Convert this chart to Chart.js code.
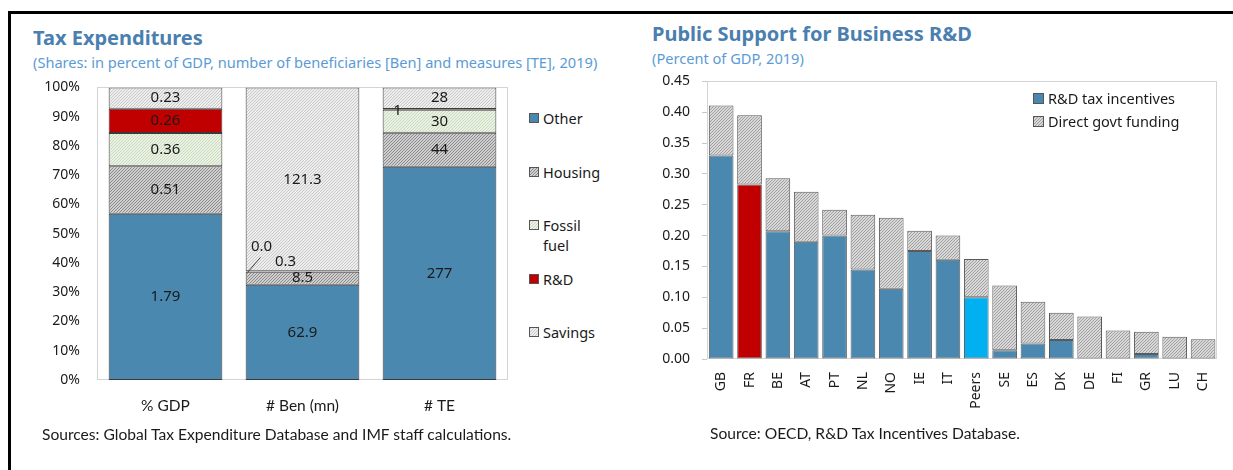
<!DOCTYPE html>
<html><head><meta charset="utf-8">
<script src="https://cdn.jsdelivr.net/npm/chart.js@4.4.1/dist/chart.umd.min.js"></script>
<style>
html,body{margin:0;padding:0;background:#fff;width:1233px;height:470px;overflow:hidden;font-family:"Noto Sans",sans-serif;position:relative;}
#frameTop{position:absolute;left:8px;top:11px;width:1225px;height:3px;background:#000;}
#frameLeft{position:absolute;left:8px;top:11px;width:3px;height:459px;background:#000;}
.title{position:absolute;font-weight:bold;font-size:20px;line-height:24px;color:#4a7fb0;white-space:nowrap;}
.sub{position:absolute;font-size:14.6px;line-height:20px;color:#5b9bd5;white-space:nowrap;}
.src{position:absolute;font-family:Lato,sans-serif;font-size:15.6px;line-height:20px;color:#1a1a1a;white-space:nowrap;}
.cw{position:absolute;}
.leg{position:absolute;font-size:14.5px;line-height:20px;color:#1a1a1a;white-space:nowrap;}
.leg canvas{position:absolute;left:0;top:5px;}
.leg span{position:absolute;white-space:nowrap;}
</style>
</head>
<body>
<div id="frameTop"></div><div id="frameLeft"></div>

<div class="title" style="left:33px;top:26px;">Tax Expenditures</div>
<div class="sub" style="left:33px;top:52px;">(Shares: in percent of GDP, number of beneficiaries [Ben] and measures [TE], 2019)</div>
<div class="title" style="left:652px;top:22px;">Public Support for Business R&amp;D</div>
<div class="sub" style="left:652px;top:48px;">(Percent of GDP, 2019)</div>

<div class="cw" style="left:0px;top:62px;width:520px;height:368px;"><canvas id="c1"></canvas></div>
<div class="cw" style="left:630px;top:61px;width:603px;height:349px;"><canvas id="c2"></canvas></div>

<div id="leg1"></div>
<div id="leg2"></div>

<div class="src" style="left:42px;top:424px;">Sources: Global Tax Expenditure Database and IMF staff calculations.</div>
<div class="src" style="left:710px;top:423px;">Source: OECD, R&amp;D Tax Incentives Database.</div>

<script>
// ---------- Data: left chart (Tax Expenditures) ----------
const teCategories = ['% GDP', '# Ben (mn)', '# TE'];
const teSeriesNames = ['Other', 'Housing', 'Fossil fuel', 'R&D', 'Savings'];
const teOther   = [1.79, 62.9, 277];
const teHousing = [0.51, 8.5, 44];
const teFossil  = [0.36, 0.3, 30];
const teRnD     = [0.26, 0.0, 1];
const teSavings = [0.23, 121.3, 28];
const teDecimals = [2, 1, 0];
const pctTicks = [0,10,20,30,40,50,60,70,80,90,100];

// ---------- Data: right chart (Public Support for Business R&D) ----------
const rdCountries = ['GB','FR','BE','AT','PT','NL','NO','IE','IT','Peers','SE','ES','DK','DE','FI','GR','LU','CH'];
const rdTaxIncentives = [0.330,0.283,0.207,0.190,0.200,0.145,0.114,0.175,0.161,0.100,0.014,0.025,0.031,0.000,0.000,0.008,0.000,0.000];
const rdDirectFunding = [0.081,0.112,0.086,0.081,0.042,0.089,0.115,0.033,0.039,0.062,0.105,0.068,0.044,0.069,0.046,0.036,0.036,0.032];
const rdSeriesNames = ['R&D tax incentives', 'Direct govt funding'];

// ---------- Styles ----------
const FONT = '"Noto Sans", sans-serif';
const BLUE = '#4a88af';
function hatch(bg, fg, step) {
  const c = document.createElement('canvas');
  c.width = step; c.height = step;
  const x = c.getContext('2d');
  x.fillStyle = bg; x.fillRect(0,0,step,step);
  x.fillStyle = fg;
  for (let i = 0; i < step; i++) x.fillRect(i, step-1-i, 1, 1);
  return x.createPattern(c, 'repeat');
}
const patHousing = hatch('#cfcfcf', '#8a8a8a', 3);
const patFossil  = hatch('#eaf2e2', '#cbd8c2', 3);
const patSavings = hatch('#eeeeee', '#c8c8c8', 3);
const patDirect  = hatch('#d8d8d8', '#a0a0a0', 3);
const teFills = [BLUE, patHousing, patFossil, '#c00000', patSavings];
const rdHighlight = {FR: '#c00000', Peers: '#00b0f0'};

// label layout tweaks (series index, category index)
const teLabelTweaks = {
  '3,1': {dx: -41, dy: -25, leader: true},
  '2,1': {dx: -17, dy: -10},
  '3,2': {dx: -42, dy: 1}
};

// ---------- Left chart ----------
const teRaw = [teOther, teHousing, teFossil, teRnD, teSavings];
const teTotals = teCategories.map((_, i) => teRaw.reduce((s, a) => s + a[i], 0));
const teShares = teRaw.map(a => a.map((v, i) => v / teTotals[i] * 100));

const framePlugin = {
  id: 'frame',
  beforeDatasetsDraw(chart) {
    const a = chart.chartArea, ctx = chart.ctx;
    ctx.save(); ctx.strokeStyle = '#d4d4d4'; ctx.lineWidth = 1;
    ctx.strokeRect(Math.round(a.left)+0.5, Math.round(a.top)+0.5, Math.round(a.right-a.left)-1, Math.round(a.bottom-a.top)-1);
    ctx.restore();
  }
};

const teLabelPlugin = {
  id: 'teLabels',
  afterDatasetsDraw(chart) {
    const ctx = chart.ctx;
    ctx.save();
    ctx.font = '15px ' + FONT;
    ctx.fillStyle = '#1a1a1a';
    ctx.textAlign = 'center'; ctx.textBaseline = 'middle';
    chart.data.datasets.forEach((ds, di) => {
      const meta = chart.getDatasetMeta(di);
      meta.data.forEach((bar, i) => {
        const txt = teRaw[di][i].toFixed(teDecimals[i]);
        let x = bar.x, y = (bar.y + bar.base) / 2;
        const t = teLabelTweaks[di + ',' + i];
        if (t) {
          if (t.leader) {
            ctx.save(); ctx.strokeStyle = '#404040'; ctx.lineWidth = 1;
            ctx.beginPath(); ctx.moveTo(x - bar.width/2 + 2, y + 1); ctx.lineTo(x + t.dx - 1, y + t.dy + 11); ctx.stroke();
            ctx.restore();
          }
          x += t.dx; y += t.dy;
        }
        ctx.fillText(txt, x, y);
      });
    });
    ctx.restore();
  }
};

new Chart(document.getElementById('c1'), {
  type: 'bar',
  data: {
    labels: teCategories,
    datasets: teSeriesNames.map((n, k) => ({
      label: n, data: teShares[k], backgroundColor: teFills[k],
      borderColor: '#3a3a3a', borderWidth: 1, borderSkipped: false,
      barPercentage: 0.83, categoryPercentage: 1.0
    }))
  },
  options: {
    responsive: true, maintainAspectRatio: false, animation: false,
    layout: {padding: {top: 16, right: 12, left: 0, bottom: 0}},
    plugins: {legend: {display: false}, tooltip: {enabled: false}},
    scales: {
      x: {
        stacked: true,
        grid: {display: false, drawTicks: false},
        border: {display: false},
        ticks: {padding: 17, color: '#1a1a1a', font: {family: 'Lato, sans-serif', size: 15.5}},
        afterFit: s => { s.height = 50; }
      },
      y: {
        stacked: true, min: 0, max: 100,
        grid: {display: false, drawTicks: false},
        border: {display: false},
        afterBuildTicks: s => { s.ticks = pctTicks.map(v => ({value: v})); },
        ticks: {padding: 17, color: '#1a1a1a', font: {family: FONT, size: 14}, callback: v => v + '%'},
        afterFit: s => { s.width = 97; }
      }
    }
  },
  plugins: [framePlugin, teLabelPlugin]
});

// ---------- Right chart ----------
new Chart(document.getElementById('c2'), {
  type: 'bar',
  data: {
    labels: rdCountries,
    datasets: [
      {label: rdSeriesNames[0], data: rdTaxIncentives,
       backgroundColor: rdCountries.map(c => rdHighlight[c] || BLUE),
       borderColor: '#5a5a5a', borderWidth: 1, borderSkipped: false,
       barPercentage: 0.87, categoryPercentage: 1.0},
      {label: rdSeriesNames[1], data: rdDirectFunding,
       backgroundColor: patDirect,
       borderColor: '#5a5a5a', borderWidth: 1, borderSkipped: false,
       barPercentage: 0.87, categoryPercentage: 1.0}
    ]
  },
  options: {
    responsive: true, maintainAspectRatio: false, animation: false,
    layout: {padding: {top: 11, right: 5, left: 0, bottom: 0}},
    plugins: {legend: {display: false}, tooltip: {enabled: false}},
    scales: {
      x: {
        stacked: true,
        grid: {display: false, drawTicks: false},
        border: {display: false},
        ticks: {padding: 13, minRotation: 90, maxRotation: 90, autoSkip: false, color: '#1a1a1a', font: {family: FONT, size: 14}},
        afterFit: s => { s.height = 51; }
      },
      y: {
        stacked: true, min: 0, max: 0.45,
        grid: {display: true, drawOnChartArea: false, drawTicks: true, tickLength: 5, color: '#c8c8c8'},
        border: {display: false},
        ticks: {stepSize: 0.05, padding: 12, color: '#1a1a1a', font: {family: FONT, size: 14}, callback: v => v.toFixed(2)},
        afterFit: s => { s.width = 77; }
      }
    }
  },
  plugins: [framePlugin]
});

// ---------- Legends (HTML) ----------
function swatch(fill, size) {
  const c = document.createElement('canvas');
  c.width = size; c.height = size;
  const x = c.getContext('2d');
  x.fillStyle = fill; x.fillRect(0,0,size,size);
  x.strokeStyle = '#555'; x.lineWidth = 1; x.strokeRect(0.5,0.5,size-1,size-1);
  return c;
}
function legendItem(parent, left, top, fill, text, size) {
  const d = document.createElement('div');
  d.className = 'leg';
  d.style.left = left + 'px'; d.style.top = top + 'px';
  d.appendChild(swatch(fill, size));
  const s = document.createElement('span');
  s.style.left = (size + 4) + 'px'; s.style.top = '0px';
  s.innerHTML = text;
  d.appendChild(s);
  parent.appendChild(d);
}
const leg1 = document.getElementById('leg1');
const leg1Y = [108, 162, 215, 269, 322];
teSeriesNames.forEach((n, k) => {
  const name = n === 'Fossil fuel' ? 'Fossil<br>fuel' : n.replace('&', '&amp;');
  legendItem(leg1, 529, leg1Y[k], teFills[k], name, 10);
});
const leg2 = document.getElementById('leg2');
legendItem(leg2, 1033, 88, BLUE, rdSeriesNames[0].replace('&','&amp;'), 11);
legendItem(leg2, 1033, 111, patDirect, rdSeriesNames[1], 11);
</script>
</body></html>
